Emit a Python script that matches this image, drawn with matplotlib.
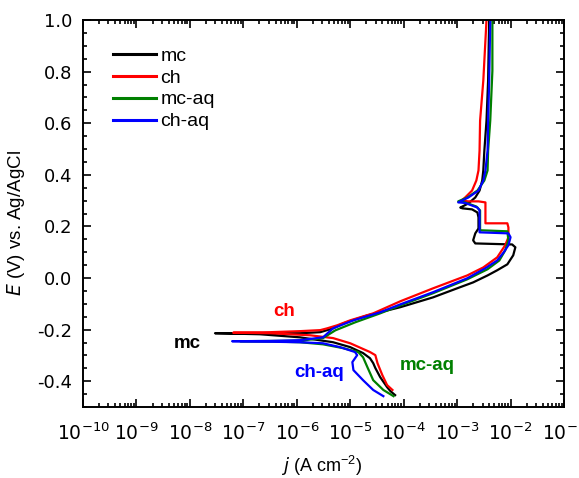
import numpy as np
import matplotlib
matplotlib.use("Agg")
import matplotlib.pyplot as plt
from matplotlib.ticker import LogLocator, MultipleLocator, FixedLocator, NullFormatter

plt.rcParams['font.family'] = ['Liberation Sans', 'DejaVu Sans']
plt.rcParams['mathtext.default'] = 'regular'

# Polarization curves: (log10 j [A cm^-2], E [V vs. Ag/AgCl]), scan from cathodic to anodic
mc_curve = [(-4.16, -0.454), (-4.25, -0.438), (-4.31, -0.423), (-4.44, -0.384), (-4.53, -0.349),
            (-4.57, -0.330), (-4.63, -0.311), (-4.76, -0.291), (-5.00, -0.268), (-5.32, -0.249),
            (-5.94, -0.230), (-6.69, -0.218), (-7.53, -0.214), (-6.69, -0.214), (-5.94, -0.214),
            (-5.56, -0.210), (-5.32, -0.195), (-5.13, -0.176), (-4.68, -0.145), (-4.06, -0.113),
            (-3.45, -0.075), (-3.00, -0.040), (-2.70, -0.017), (-2.43, 0.010), (-2.25, 0.030),
            (-2.06, 0.053), (-1.95, 0.088), (-1.91, 0.119), (-1.97, 0.130), (-2.66, 0.134),
            (-2.70, 0.146), (-2.66, 0.173), (-2.60, 0.192), (-2.60, 0.235), (-2.62, 0.254),
            (-2.72, 0.266), (-2.90, 0.270), (-2.94, 0.273), (-2.79, 0.289), (-2.66, 0.312),
            (-2.58, 0.339), (-2.53, 0.378), (-2.51, 0.417), (-2.49, 0.494), (-2.45, 0.610),
            (-2.42, 0.765), (-2.40, 1.000)]

ch_curve = [(-4.21, -0.434), (-4.31, -0.415), (-4.40, -0.376), (-4.49, -0.330), (-4.53, -0.299),
            (-4.63, -0.287), (-5.00, -0.253), (-5.32, -0.233), (-5.75, -0.222), (-6.50, -0.214),
            (-7.19, -0.212), (-6.50, -0.210), (-5.94, -0.206), (-5.56, -0.202), (-5.43, -0.195),
            (-5.24, -0.183), (-5.00, -0.164), (-4.57, -0.137), (-4.06, -0.090), (-3.45, -0.040),
            (-2.81, 0.010), (-2.51, 0.041), (-2.25, 0.080), (-2.10, 0.127), (-2.04, 0.158),
            (-2.04, 0.196), (-2.06, 0.212), (-2.47, 0.212), (-2.47, 0.293), (-2.60, 0.297),
            (-2.79, 0.297), (-2.92, 0.300), (-2.85, 0.312), (-2.72, 0.339), (-2.64, 0.378),
            (-2.60, 0.417), (-2.58, 0.494), (-2.57, 0.610), (-2.51, 0.765), (-2.45, 1.000)]

mc_aq_curve = [(-4.19, -0.458), (-4.38, -0.434), (-4.57, -0.396), (-4.68, -0.345), (-4.76, -0.307),
               (-4.85, -0.287), (-5.13, -0.272), (-5.51, -0.257), (-5.94, -0.249), (-6.50, -0.246),
               (-7.06, -0.245), (-6.50, -0.244), (-5.94, -0.243), (-5.51, -0.233), (-5.28, -0.203),
               (-4.91, -0.172), (-4.44, -0.137), (-4.06, -0.106), (-3.45, -0.059), (-2.81, -0.005),
               (-2.43, 0.034), (-2.21, 0.068), (-2.10, 0.107), (-2.04, 0.146), (-2.06, 0.181),
               (-2.57, 0.185), (-2.57, 0.262), (-2.64, 0.277), (-2.85, 0.293), (-2.98, 0.297),
               (-2.81, 0.312), (-2.62, 0.339), (-2.49, 0.378), (-2.43, 0.417), (-2.42, 0.494),
               (-2.38, 0.610), (-2.34, 0.803), (-2.34, 1.000)]

ch_aq_curve = [(-4.38, -0.458), (-4.57, -0.434), (-4.76, -0.396), (-4.94, -0.357), (-4.96, -0.326),
               (-4.87, -0.299), (-4.91, -0.287), (-5.19, -0.268), (-5.51, -0.253), (-5.94, -0.249),
               (-6.50, -0.247), (-7.21, -0.245), (-6.50, -0.244), (-5.94, -0.241), (-5.51, -0.230),
               (-5.32, -0.195), (-4.94, -0.164), (-4.44, -0.133), (-4.06, -0.102), (-3.45, -0.055),
               (-2.81, -0.001), (-2.47, 0.038), (-2.25, 0.068), (-2.13, 0.099), (-2.04, 0.127),
               (-2.00, 0.158), (-2.04, 0.173), (-2.58, 0.177), (-2.58, 0.262), (-2.62, 0.273),
               (-2.85, 0.291), (-2.98, 0.293), (-2.79, 0.312), (-2.60, 0.339), (-2.51, 0.378),
               (-2.47, 0.417), (-2.43, 0.494), (-2.42, 0.610), (-2.40, 0.765), (-2.38, 1.000)]

series_labels = ["mc", "ch", "mc-aq", "ch-aq"]
series_colors = ["#000000", "#ff0000", "#008000", "#0000ff"]
series_curves = [mc_curve, ch_curve, mc_aq_curve, ch_aq_curve]

fig = plt.figure(figsize=(5.79, 4.78), dpi=100)
ax = fig.add_axes([83 / 579, 1 - 407 / 478, 481 / 579, 387 / 478])

for label, color, curve in zip(series_labels, series_colors, series_curves):
    arr = np.array(curve)
    ax.plot(10 ** arr[:, 0], arr[:, 1], color=color, lw=1.6, label=label,
            solid_joinstyle='round')

ax.set_xscale('log')
ax.set_xlim(1e-10, 1e-1)
ax.set_ylim(-0.5, 1.0)

ax.xaxis.set_major_locator(FixedLocator([10.0 ** k for k in range(-10, 0)]))
ax.xaxis.set_minor_locator(LogLocator(base=10, subs=np.arange(2, 10), numticks=20))
ax.xaxis.set_minor_formatter(NullFormatter())
ax.yaxis.set_major_locator(MultipleLocator(0.2))
ax.yaxis.set_minor_locator(MultipleLocator(0.05))
ax.yaxis.set_major_formatter(plt.FuncFormatter(lambda v, p: f"{v:.1f}"))

ax.tick_params(which='both', direction='in', top=True, right=True, width=1.2, colors='black')
ax.tick_params(which='major', length=6)
ax.tick_params(which='minor', length=3)
ax.tick_params(axis='x', which='major', pad=11, labelsize=13.5)
ax.tick_params(axis='y', which='major', pad=8, labelsize=13)
for lab in ax.get_xticklabels() + ax.get_yticklabels():
    lab.set_family(['DejaVu Sans'])
for sp in ax.spines.values():
    sp.set_linewidth(1.4)

ax.set_xlabel(r"$\it{j}$ (A cm$^{-2}$)", fontsize=13)
ax.set_ylabel(r"$\it{E}$ (V) vs. Ag/AgCl", fontsize=13.5)
ax.xaxis.set_label_coords(0.495, -0.120)
ax.yaxis.set_label_coords(-0.117, 0.475)

leg = ax.legend(loc='upper left', bbox_to_anchor=(0.062, 0.93), frameon=False,
                fontsize=14, handlelength=2.2, handletextpad=0.25, labelspacing=0.22,
                borderpad=0, borderaxespad=0)
for line in leg.get_lines():
    line.set_linewidth(2.2)

# Curve annotations
ax.text(0.418, 0.248, "ch", color="#ff0000", fontsize=13.5, fontweight='bold',
        ha='center', va='center', transform=ax.transAxes)
ax.text(0.216, 0.165, "mc", color="#000000", fontsize=13.5, fontweight='bold',
        ha='center', va='center', transform=ax.transAxes)
ax.text(0.491, 0.090, "ch-aq", color="#0000ff", fontsize=13.5, fontweight='bold',
        ha='center', va='center', transform=ax.transAxes)
ax.text(0.715, 0.106, "mc-aq", color="#008000", fontsize=13.5, fontweight='bold',
        ha='center', va='center', transform=ax.transAxes)

fig.savefig("out.png", dpi=100)
